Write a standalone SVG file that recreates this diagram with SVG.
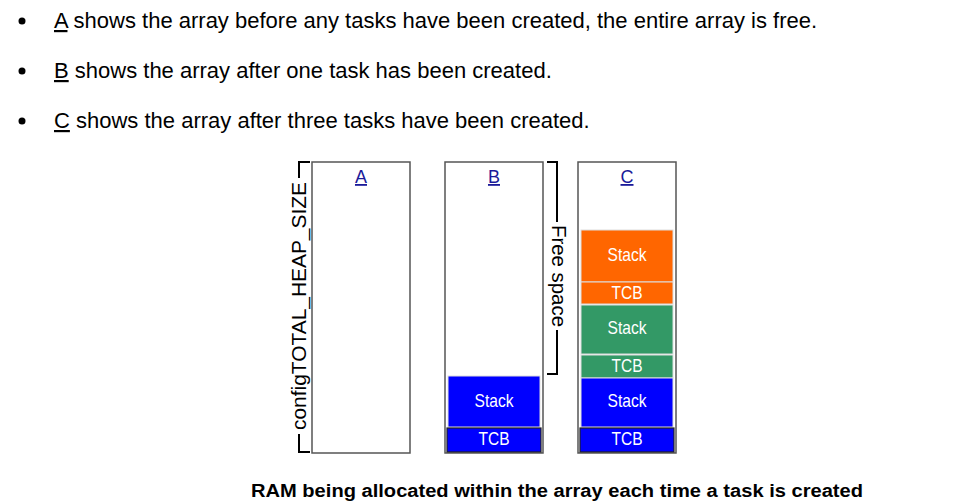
<svg xmlns="http://www.w3.org/2000/svg" width="953" height="501" viewBox="0 0 953 501">
<style>
  text { font-family: "Liberation Sans", Arial, sans-serif; }
  .bullet { font-size: 22px; fill: #000; }
  .box { fill: #fff; stroke: #555; stroke-width: 1.5; }
  .lbl { font-size: 18px; fill: #1a1a99; text-anchor: middle; text-decoration: underline; }
  .blk { stroke: #ddd; stroke-width: 1; }
  .tcbb { stroke: #222; stroke-width: 1.2; }
  .wt { font-size: 19px; fill: #fff; text-anchor: middle; }
  .brace { fill: none; stroke: #000; stroke-width: 2; }
  .side { font-size: 21px; fill: #000; text-anchor: middle; }
  .cap { font-size: 18px; font-weight: bold; fill: #000; }
</style>
<rect width="953" height="501" fill="#fff"/>
<g id="bullets">
  <circle cx="22" cy="21" r="3.5" fill="#000"/>
  <text class="bullet" x="54" y="28"><tspan text-decoration="underline">A</tspan> shows the array before any tasks have been created, the entire array is free.</text>
  <circle cx="22" cy="71" r="3.5" fill="#000"/>
  <text class="bullet" x="54" y="78"><tspan text-decoration="underline">B</tspan> shows the array after one task has been created.</text>
  <circle cx="22" cy="121" r="3.5" fill="#000"/>
  <text class="bullet" x="54" y="128"><tspan text-decoration="underline">C</tspan> shows the array after three tasks have been created.</text>
</g>
<g id="heapSize">
  <path class="brace" d="M310,162 H299 V178 M299,434 V452 H310"/>
  <text class="side" transform="translate(305.5,306) rotate(-90)" textLength="248" lengthAdjust="spacingAndGlyphs">configTOTAL_HEAP_SIZE</text>
</g>
<g id="arrayA">
  <rect class="box" x="312" y="162" width="98" height="291"/>
  <text class="lbl" x="361" y="183">A</text>
</g>
<g id="arrayB">
  <rect class="box" x="445" y="162" width="98" height="291"/>
  <text class="lbl" x="494" y="183">B</text>
  <rect class="blk" x="448" y="376" width="92" height="51" fill="#0000ff"/>
  <text class="wt" x="494" y="407" textLength="39" lengthAdjust="spacingAndGlyphs">Stack</text>
  <rect class="tcbb" x="447" y="428" width="94" height="24" fill="#0000ff"/>
  <text class="wt" x="494" y="445" textLength="31" lengthAdjust="spacingAndGlyphs">TCB</text>
</g>
<g id="freeSpace">
  <path class="brace" d="M547,162 H557 V222 M557,330 V374 H547"/>
  <text class="side" transform="translate(552,276) rotate(90)" textLength="102" lengthAdjust="spacingAndGlyphs">Free space</text>
</g>
<g id="arrayC">
  <rect class="box" x="578" y="162" width="98" height="291"/>
  <text class="lbl" x="627" y="183">C</text>
  <rect class="blk" x="581" y="230" width="92" height="52" fill="#ff6600"/>
  <text class="wt" x="627" y="261" textLength="39" lengthAdjust="spacingAndGlyphs">Stack</text>
  <rect class="blk" x="581" y="282" width="92" height="22" fill="#ff6600"/>
  <text class="wt" x="627" y="299" textLength="31" lengthAdjust="spacingAndGlyphs">TCB</text>
  <rect class="blk" x="581" y="305" width="92" height="49" fill="#339966"/>
  <text class="wt" x="627" y="334" textLength="39" lengthAdjust="spacingAndGlyphs">Stack</text>
  <rect class="blk" x="581" y="355" width="92" height="23" fill="#339966"/>
  <text class="wt" x="627" y="372" textLength="31" lengthAdjust="spacingAndGlyphs">TCB</text>
  <rect class="blk" x="581" y="378" width="92" height="49" fill="#0000ff"/>
  <text class="wt" x="627" y="407" textLength="39" lengthAdjust="spacingAndGlyphs">Stack</text>
  <rect class="tcbb" x="580" y="428" width="94" height="24" fill="#0000ff"/>
  <text class="wt" x="627" y="445" textLength="31" lengthAdjust="spacingAndGlyphs">TCB</text>
</g>
<g id="connectors"></g>
<text class="cap" x="251" y="497" textLength="612" lengthAdjust="spacingAndGlyphs">RAM being allocated within the array each time a task is created</text>
</svg>
